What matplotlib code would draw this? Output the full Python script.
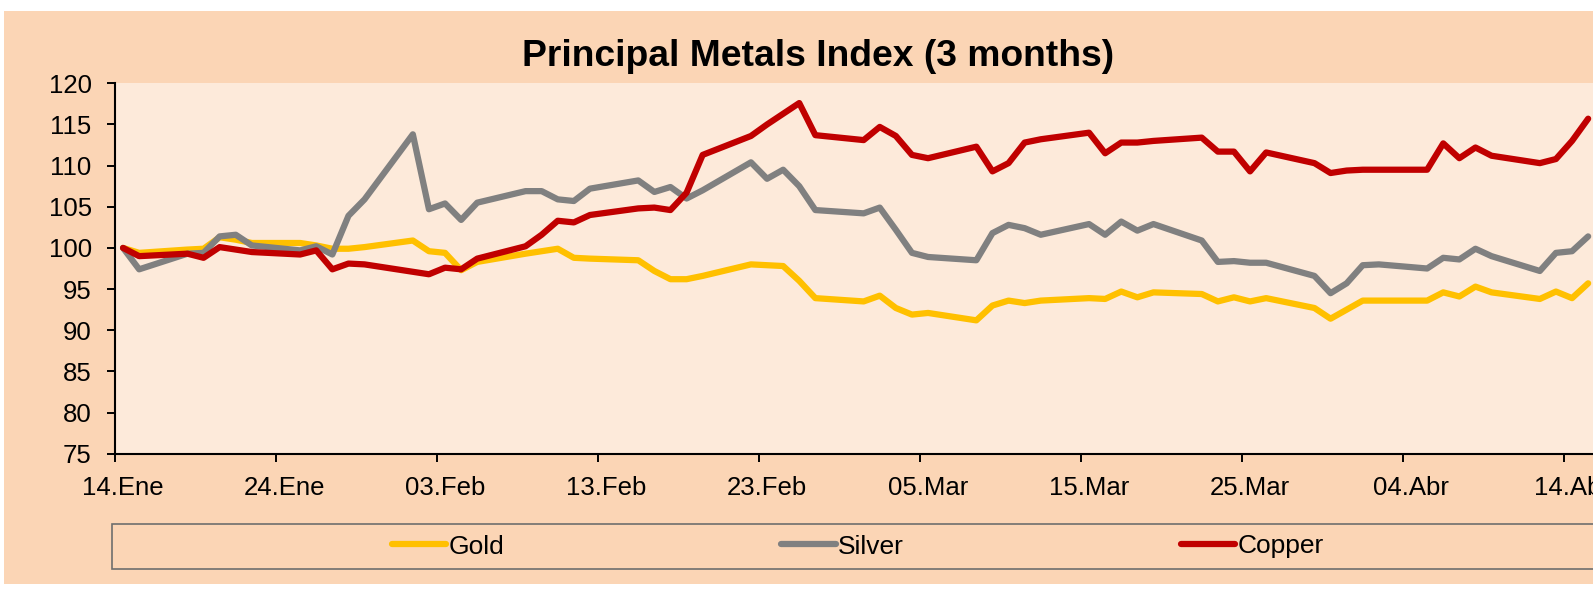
import matplotlib
matplotlib.use("Agg")
import matplotlib.pyplot as plt
import matplotlib.patches as mpatches
import pandas as pd

# trading days, Jan 14 - Apr 15 2021
dates = ["2021-01-14", "2021-01-15", "2021-01-18", "2021-01-19", "2021-01-20", "2021-01-21",
         "2021-01-22", "2021-01-25", "2021-01-26", "2021-01-27", "2021-01-28", "2021-01-29",
         "2021-02-01", "2021-02-02", "2021-02-03", "2021-02-04", "2021-02-05", "2021-02-08",
         "2021-02-09", "2021-02-10", "2021-02-11", "2021-02-12", "2021-02-15", "2021-02-16",
         "2021-02-17", "2021-02-18", "2021-02-19", "2021-02-22", "2021-02-23", "2021-02-24",
         "2021-02-25", "2021-02-26", "2021-03-01", "2021-03-02", "2021-03-03", "2021-03-04",
         "2021-03-05", "2021-03-08", "2021-03-09", "2021-03-10", "2021-03-11", "2021-03-12",
         "2021-03-15", "2021-03-16", "2021-03-17", "2021-03-18", "2021-03-19", "2021-03-22",
         "2021-03-23", "2021-03-24", "2021-03-25", "2021-03-26", "2021-03-29", "2021-03-30",
         "2021-03-31", "2021-04-01", "2021-04-02", "2021-04-05", "2021-04-06", "2021-04-07",
         "2021-04-08", "2021-04-09", "2021-04-12", "2021-04-13", "2021-04-14", "2021-04-15"]

gold = [100.0, 99.4, 99.8, 99.9, 101.3, 101.0, 100.6, 100.6, 100.3, 99.9, 99.9, 100.1,
        100.9, 99.6, 99.4, 97.3, 98.3, 99.3, 99.6, 99.9, 98.8, 98.7, 98.5, 97.2,
        96.2, 96.2, 96.6, 98.0, 97.9, 97.8, 96.0, 93.9, 93.5, 94.2, 92.7, 91.9,
        92.1, 91.2, 93.0, 93.6, 93.3, 93.6, 93.9, 93.8, 94.7, 94.0, 94.6, 94.4,
        93.5, 94.0, 93.5, 93.9, 92.7, 91.4, 92.5, 93.6, 93.6, 93.6, 94.6, 94.1,
        95.3, 94.6, 93.8, 94.7, 93.9, 95.7]

silver = [100.0, 97.4, 99.3, 99.4, 101.4, 101.6, 100.3, 99.7, 100.2, 99.2, 103.9, 105.9,
          113.8, 104.7, 105.4, 103.4, 105.5, 106.9, 106.9, 105.9, 105.7, 107.2, 108.2, 106.8,
          107.4, 106.0, 107.0, 110.4, 108.4, 109.5, 107.5, 104.6, 104.2, 104.9, 102.2, 99.4,
          98.9, 98.5, 101.8, 102.8, 102.4, 101.6, 102.9, 101.6, 103.2, 102.1, 102.9, 100.9,
          98.3, 98.4, 98.2, 98.2, 96.6, 94.5, 95.7, 97.9, 98.0, 97.5, 98.8, 98.6,
          99.9, 99.0, 97.2, 99.4, 99.6, 101.4]

copper = [100.0, 99.0, 99.3, 98.8, 100.1, 99.8, 99.5, 99.2, 99.7, 97.4, 98.1, 98.0,
          97.1, 96.8, 97.6, 97.4, 98.7, 100.2, 101.6, 103.3, 103.1, 104.0, 104.8, 104.9,
          104.6, 106.7, 111.3, 113.6, 115.0, 116.3, 117.6, 113.7, 113.1, 114.7, 113.6, 111.3,
          110.9, 112.3, 109.3, 110.3, 112.8, 113.2, 114.0, 111.5, 112.8, 112.8, 113.0, 113.4,
          111.7, 111.7, 109.3, 111.6, 110.3, 109.1, 109.4, 109.5, 109.5, 109.5, 112.7, 110.9,
          112.2, 111.2, 110.3, 110.8, 113.0, 115.7]

tick_dates = ["2021-01-14", "2021-01-24", "2021-02-03", "2021-02-13", "2021-02-23",
              "2021-03-05", "2021-03-15", "2021-03-25", "2021-04-04", "2021-04-14"]
tick_labels = ["14.Ene", "24.Ene", "03.Feb", "13.Feb", "23.Feb",
               "05.Mar", "15.Mar", "25.Mar", "04.Abr", "14.Abr"]

plt.rcParams['font.family'] = ['Liberation Sans', 'DejaVu Sans']

W, H = 1593, 598
fig = plt.figure(figsize=(W / 100, H / 100), dpi=100, facecolor='white')

# chart area background
fig.patches.append(mpatches.Rectangle((4 / W, 1 - 584 / H), 1.0, 573 / H, transform=fig.transFigure,
                                      facecolor='#FBD5B5', edgecolor='none', zorder=-10))
# legend frame
fig.patches.append(mpatches.Rectangle((112 / W, 1 - 569 / H), 1.0, 45 / H, transform=fig.transFigure,
                                      facecolor='#FBD5B5', edgecolor='#6E6E6E', lw=1.2, zorder=-5))

ax = fig.add_axes([115 / W, 1 - 453.7 / H, 1 - 115 / W, (453.7 - 83.3) / H])
ax.set_facecolor('#FDEADA')

lw = 4.5
x = pd.to_datetime(dates) + pd.Timedelta(hours=12)
ax.plot(x, gold, color='#FFC000', lw=lw, label='Gold', solid_capstyle='round')
ax.plot(x, silver, color='#808080', lw=lw, label='Silver', solid_capstyle='round')
ax.plot(x, copper, color='#C00000', lw=lw, label='Copper', solid_capstyle='round')

t0 = pd.Timestamp(tick_dates[0])
ax.set_xlim(t0, t0 + pd.Timedelta(days=(W - 115) / 16.1))
ax.set_ylim(75, 120)
ax.set_yticks(range(75, 121, 5))

ticks = pd.to_datetime(tick_dates)
ax.set_xticks(ticks)
ax.set_xticklabels([''] * len(ticks))
ax.set_xticks(ticks + pd.Timedelta(hours=12), minor=True)
ax.set_xticklabels(tick_labels, minor=True)

ax.tick_params(axis='y', direction='out', length=5.8, width=1.4, pad=11, labelsize=18.5)
ax.tick_params(axis='x', which='major', direction='out', length=5.8, width=1.4)
ax.tick_params(axis='x', which='minor', length=0, pad=16, labelsize=18.5)

for s in ['top', 'right']:
    ax.spines[s].set_visible(False)
for s in ['left', 'bottom']:
    ax.spines[s].set_linewidth(1.5)
    ax.spines[s].set_color('black')

fig.text(818 / W, 1 - 57 / H, 'Principal Metals Index (3 months)', ha='center', va='center',
         fontsize=26.8, fontweight='bold')

h, l = ax.get_legend_handles_labels()
fig.legend(h, l, loc='center', bbox_to_anchor=(858 / W, 1 - 546.5 / H), ncol=3, frameon=False,
           fontsize=19, handlelength=2.05, handletextpad=0.1, columnspacing=10.5)

fig.savefig('out.png', dpi=100, facecolor='white')
